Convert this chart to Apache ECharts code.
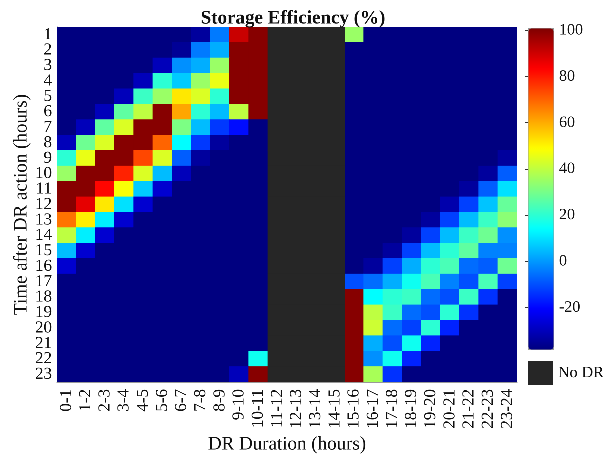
<!DOCTYPE html>
<html>
<head>
<meta charset="utf-8">
<title>Storage Efficiency</title>
<script src="https://cdn.jsdelivr.net/npm/echarts@6/dist/echarts.min.js"></script>
<style>
  html, body { margin: 0; padding: 0; background: #fff; }
  #main { width: 603px; height: 459px; }
</style>
</head>
<body>
<div id="main"></div>
<script>
// DR duration columns and hours-after-action rows
const colLabels = ['0-1', '1-2', '2-3', '3-4', '4-5', '5-6', '6-7', '7-8', '8-9', '9-10', '10-11', '11-12',
    '12-13', '13-14', '14-15', '15-16', '16-17', '17-18', '18-19', '19-20', '20-21', '21-22', '22-23', '23-24'];
const rowLabels = ['1', '2', '3', '4', '5', '6', '7', '8', '9', '10', '11', '12',
    '13', '14', '15', '16', '17', '18', '19', '20', '21', '22', '23'];
const noDrCols = ['11-12', '12-13', '13-14', '14-15'];

// storage efficiency (%), one row per hour after the DR action, null = no DR
const efficiency = [
    [-38, -38, -38, -38, -38, -38, -38, -34, -4, 91, 100, null, null, null, null, 35, -38, -38, -38, -38, -38, -38, -38, -38],
    [-38, -38, -38, -38, -38, -38, -35, -4, 3, 100, 100, null, null, null, null, -38, -38, -38, -38, -38, -38, -38, -38, -38],
    [-38, -38, -38, -38, -38, -30, -1, 3, 35, 100, 100, null, null, null, null, -38, -38, -38, -38, -38, -38, -38, -38, -38],
    [-38, -38, -38, -38, -30, 20, 7, 35, 46, 100, 100, null, null, null, null, -38, -38, -38, -38, -38, -38, -38, -38, -38],
    [-38, -38, -38, -30, 22, 35, 52, 44, 20, 100, 100, null, null, null, null, -38, -38, -38, -38, -38, -38, -38, -38, -38],
    [-38, -38, -30, 27, 40, 100, 61, 20, 5, 40, 100, null, null, null, null, -38, -38, -38, -38, -38, -38, -38, -38, -38],
    [-38, -30, 27, 44, 100, 100, 31, 5, -13, -19, -38, null, null, null, null, -38, -38, -38, -38, -38, -38, -38, -38, -38],
    [-30, 29, 44, 100, 100, 70, 14, -13, -34, -38, -38, null, null, null, null, -38, -38, -38, -38, -38, -38, -38, -38, -38],
    [20, 46, 100, 100, 74, 44, -8, -34, -38, -38, -38, null, null, null, null, -38, -38, -38, -38, -38, -38, -38, -38, -34],
    [35, 100, 100, 79, 44, 5, -30, -38, -38, -38, -38, null, null, null, null, -38, -38, -38, -38, -38, -38, -38, -34, -8],
    [100, 100, 83, 48, 7, -27, -38, -38, -38, -38, -38, null, null, null, null, -38, -38, -38, -38, -38, -38, -34, -8, 10],
    [100, 87, 52, 10, -27, -38, -38, -38, -38, -38, -38, null, null, null, null, -38, -38, -38, -38, -38, -32, -12, 6, 28],
    [68, 51, 12, -27, -38, -38, -38, -38, -38, -38, -38, null, null, null, null, -38, -38, -38, -38, -34, -12, 5, 22, 33],
    [40, 12, -27, -38, -38, -38, -38, -38, -38, -38, -38, null, null, null, null, -38, -38, -38, -34, -12, 5, 22, 29, -1],
    [5, -27, -38, -38, -38, -38, -38, -38, -38, -38, -38, null, null, null, null, -38, -38, -34, -12, 5, 20, 27, -3, -3],
    [-27, -38, -38, -38, -38, -38, -38, -38, -38, -38, -38, null, null, null, null, -38, -34, -12, 3, 20, 24, -6, -8, 29],
    [-38, -38, -38, -38, -38, -38, -38, -38, -38, -38, -38, null, null, null, null, -10, -6, 3, 16, 24, -3, -10, 24, -12],
    [-38, -38, -38, -38, -38, -38, -38, -38, -38, -38, -38, null, null, null, null, 100, 14, 20, 22, -6, -10, 22, -14, -38],
    [-38, -38, -38, -38, -38, -38, -38, -38, -38, -38, -38, null, null, null, null, 100, 40, 22, -6, -10, 20, -14, -38, -38],
    [-38, -38, -38, -38, -38, -38, -38, -38, -38, -38, -38, null, null, null, null, 100, 42, -6, -12, 20, -16, -38, -38, -38],
    [-38, -38, -38, -38, -38, -38, -38, -38, -38, -38, -38, null, null, null, null, 100, 3, -10, 16, -16, -38, -38, -38, -38],
    [-38, -38, -38, -38, -38, -38, -38, -38, -38, -38, 16, null, null, null, null, 100, -1, 16, -16, -38, -38, -38, -38, -38],
    [-38, -38, -38, -38, -38, -38, -38, -38, -38, -30, 100, null, null, null, null, 100, 37, -14, -38, -38, -38, -38, -38, -38]
];

// colour bar range and ticks
const cbMin = -38;
const cbMax = 101;
const cbTicks = [-20, 0, 20, 40, 60, 80, 100];

const FONT = 'Liberation Serif';
const TXT = '#111';
// MATLAB jet, evenly spaced stops
const jet = ['#000080', '#0000ff', '#0080ff', '#00ffff', '#80ff80', '#ffff00', '#ff8000', '#ff0000', '#800000'];

const heatData = [];
efficiency.forEach((row, r) => {
    row.forEach((v, c) => {
        if (v !== null) heatData.push([c, r, v]);
    });
});

const noDrData = [];
noDrCols.forEach(col => {
    const c = colLabels.indexOf(col);
    rowLabels.forEach((lab, r) => noDrData.push([c, r, 1]));
});

// render at a higher ratio so the cell seams get averaged away
const chart = echarts.init(document.getElementById('main'), null, { devicePixelRatio: 4 });

chart.setOption({
    animation: false,
    textStyle: { fontFamily: FONT, color: TXT },
    title: {
        text: 'Storage Efficiency (%)',
        left: 288,
        textAlign: 'center',
        top: 4,
        textStyle: { fontFamily: FONT, fontSize: 19, fontWeight: 'bold', color: TXT }
    },
    grid: [
        { left: 57, top: 27, width: 460, height: 357 },
        { left: 528, top: 28, width: 25, height: 321 }
    ],
    xAxis: [{
        type: 'category',
        data: colLabels,
        name: 'DR Duration (hours)',
        nameLocation: 'middle',
        nameGap: 53,
        nameMoveOverlap: false,
        nameTextStyle: { fontFamily: FONT, fontSize: 19, color: TXT },
        axisLine: { lineStyle: { color: '#999' } },
        axisTick: { show: false },
        splitLine: { show: false },
        axisLabel: { rotate: 90, fontFamily: FONT, fontSize: 17, color: TXT, margin: 7, interval: 0 }
    }, {
        gridIndex: 1,
        type: 'value',
        show: false
    }],
    yAxis: [{
        type: 'category',
        data: rowLabels,
        inverse: true,
        name: 'Time after DR action (hours)',
        nameLocation: 'middle',
        nameGap: 26,
        nameMoveOverlap: false,
        nameTextStyle: { fontFamily: FONT, fontSize: 19, color: TXT },
        axisLine: { lineStyle: { color: '#999' } },
        axisTick: { show: false },
        splitLine: { show: false },
        axisLabel: { fontFamily: FONT, fontSize: 17, color: TXT, margin: 5, interval: 0 }
    }, {
        gridIndex: 1,
        type: 'value',
        min: cbMin,
        max: cbMax,
        position: 'right',
        z: 10,
        axisLine: { show: false },
        splitLine: { show: false },
        axisTick: { customValues: cbTicks, inside: true, length: 3, lineStyle: { color: '#333' } },
        axisLabel: { customValues: cbTicks, fontFamily: FONT, fontSize: 16, color: TXT, margin: 6 }
    }],
    visualMap: {
        type: 'continuous',
        seriesIndex: 0,
        min: cbMin,
        max: cbMax,
        calculable: false,
        orient: 'vertical',
        left: 528,
        top: 28,
        itemWidth: 25,
        itemHeight: 321,
        padding: 0,
        borderColor: '#999',
        borderWidth: 1,
        showLabel: false,
        inRange: { color: jet }
    },
    legend: {
        data: [{ name: 'No DR', icon: 'rect' }],
        left: 528,
        top: 361,
        padding: 0,
        itemWidth: 25,
        itemHeight: 24,
        selectedMode: false,
        textStyle: { fontFamily: FONT, fontSize: 16, color: TXT }
    },
    series: [{
        name: 'Efficiency',
        type: 'heatmap',
        data: heatData,
        itemStyle: { borderWidth: 0 },
        emphasis: { disabled: true }
    }, {
        name: 'No DR',
        type: 'heatmap',
        data: noDrData,
        itemStyle: { color: '#262626', borderWidth: 0 },
        emphasis: { disabled: true }
    }]
});
</script>
</body>
</html>
